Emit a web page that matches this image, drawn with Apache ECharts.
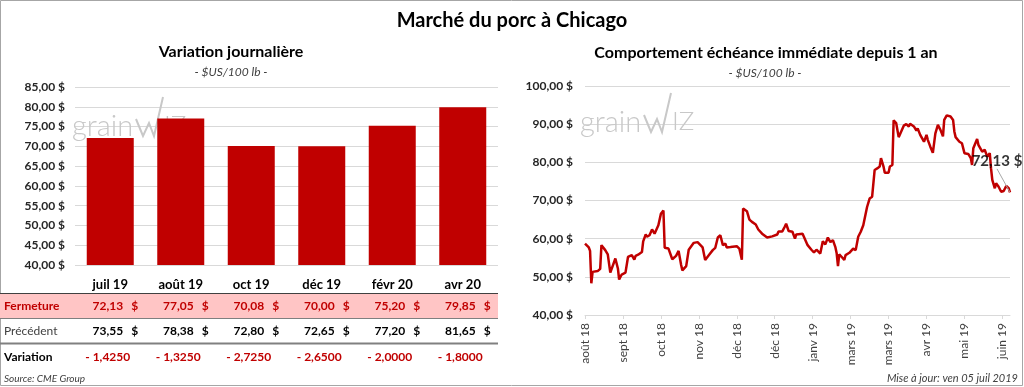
<!DOCTYPE html>
<html><head><meta charset="utf-8">
<script src="https://cdn.jsdelivr.net/npm/echarts@6/dist/echarts.min.js"></script>
<style>html,body{margin:0;padding:0;background:#fff}#c{width:1024px;height:387px}</style>
</head><body><div id="c"></div>
<script>
// ---- Left panel data (daily variation) ----
const categories = ['juil 19', 'août 19', 'oct 19', 'déc 19', 'févr 20', 'avr 20'];
const closeValues = [72.13, 77.05, 70.08, 70.00, 75.20, 79.85];
const prevValues = [73.55, 78.38, 72.80, 72.65, 77.20, 81.65];
const variations = [-1.4250, -1.3250, -2.7250, -2.6500, -2.0000, -1.8000];
const leftYTicks = [40, 85, 5];

// ---- Right panel data (front month, 1 year) ----
// days since 3 Aug 2018
const days = [0,3,4,5,6,10,12,13,16,18,20,24,26,27,29,32,34,37,39,40,42,45,46,48,49,51,53,55,58,60,62,63,66,69,72,74,76,77,80,82,86,89,93,95,98,101,103,105,107,109,111,112,115,116,120,122,124,125,128,130,132,135,137,140,144,148,152,153,156,158,159,161,164,166,167,172,174,176,179,181,183,186,188,190,192,194,196,198,199,200,201,203,205,206,209,212,214,216,218,220,221,223,225,227,229,231,233,234,236,237,240,241,243,244,246,248,250,252,254,256,257,260,262,263,265,268,270,271,273,275,277,279,281,283,284,286,289,291,292,293,296,298,300,303,305,306,307,310,311,312,314,316,318,320,321,322,324,325,327,329,331,333,335,336];
const prices = [58.7,57.7,56.8,48.3,51.3,51.5,52.1,58.3,57.0,55.9,51.1,54.8,52.2,49.3,50.6,51.1,55.2,55.7,54.5,55.5,55.8,56.5,59.3,61.1,60.5,60.9,62.4,61.3,63.5,66.5,67.4,57.6,57.4,54.6,55.5,56.8,53.1,51.7,52.8,57.1,58.9,59.1,57.7,54.4,55.7,57.0,57.6,60.3,60.9,58.3,58.7,57.7,57.8,57.6,58.0,57.4,54.5,67.9,67.2,65.0,64.4,63.7,62.4,61.3,60.3,60.6,61.1,61.9,61.9,63.2,63.9,62.0,61.8,60.0,61.1,61.3,59.8,58.3,57.1,56.4,57.1,56.1,59.3,58.5,60.3,59.1,59.6,57.7,56.1,52.8,55.9,55.2,54.4,55.7,56.3,57.4,57.0,60.5,61.8,63.5,64.0,68.3,70.5,71.0,78.0,78.4,78.9,81.1,78.9,77.3,77.3,78.9,79.3,91.0,90.3,86.6,88.1,89.6,90.0,89.4,90.1,89.4,88.3,88.9,87.2,85.4,87.2,85.9,84.1,82.5,87.6,89.8,88.5,86.8,91.1,92.3,92.0,91.1,88.1,86.6,85.4,85.0,82.4,82.2,81.1,79.3,83.7,86.1,84.6,85.0,82.8,83.3,81.5,82.4,78.4,75.4,73.2,74.5,73.6,72.3,72.5,73.8,73.2,72.13];
const xTickDays = [0,30,60,90,120,150,180,210,240,270,300,330];
const rightYTicks = [40, 100, 10];
const monthNames = ['janv','févr','mars','avr','mai','juin','juil','août','sept','oct','nov','déc'];

const FONT = 'Lato, "Open Sans", sans-serif';
const RED = '#c00000';
const baseDate = Date.UTC(2018, 7, 3);
function fmt2(v){ return v.toFixed(2).replace('.', ','); }
function fmtVar(v){ return (v < 0 ? '- ' : '') + Math.abs(v).toFixed(4).replace('.', ','); }
function dayLabel(v){ const d = new Date(baseDate + v * 86400000); return monthNames[d.getUTCMonth()] + ' ' + String(d.getUTCFullYear()).slice(2); }

const lineData = days.map((d, i) => [d, prices[i]]);
const lastPoint = lineData[lineData.length - 1];

const chart = echarts.init(document.getElementById('c'), null, {renderer: 'canvas'});
const option = {
  animation: false,
  textStyle: {fontFamily: FONT},
  grid: [
    {left: 75, right: 526, top: 87, bottom: 122},
    {left: 585, right: 14, top: 86, bottom: 72}
  ],
  xAxis: [
    {type: 'category', gridIndex: 0, data: categories,
     axisLine: {show: false}, axisTick: {show: false},
     axisLabel: {margin: 13, fontWeight: 'bold', fontSize: 13, color: '#000', fontFamily: FONT}},
    {type: 'value', gridIndex: 1, min: 0, max: days[days.length - 1], interval: 30,
     axisLine: {show: true, lineStyle: {color: '#d9d9d9'}},
     axisTick: {show: true, length: 4, lineStyle: {color: '#d9d9d9'}, customValues: xTickDays},
     axisLabel: {rotate: 90, customValues: xTickDays, formatter: dayLabel, fontSize: 12, color: '#404040', margin: 8, fontFamily: FONT},
     splitLine: {show: false}}
  ],
  yAxis: [
    {type: 'value', gridIndex: 0, min: leftYTicks[0], max: leftYTicks[1], interval: leftYTicks[2],
     axisLine: {show: false}, axisTick: {show: false},
     axisLabel: {formatter: v => fmt2(v) + ' $', fontWeight: 'bold', fontSize: 12, color: '#262626', margin: 10, fontFamily: FONT},
     splitLine: {lineStyle: {color: '#d9d9d9'}}},
    {type: 'value', gridIndex: 1, min: rightYTicks[0], max: rightYTicks[1], interval: rightYTicks[2],
     axisLine: {show: false}, axisTick: {show: false},
     axisLabel: {formatter: v => fmt2(v) + ' $', fontWeight: 'bold', fontSize: 12, color: '#262626', margin: 12, fontFamily: FONT},
     splitLine: {lineStyle: {color: '#d9d9d9'}}}
  ],
  series: [
    {type: 'bar', xAxisIndex: 0, yAxisIndex: 0, data: closeValues, barWidth: 47, itemStyle: {color: RED}, z: 3},
    {type: 'line', xAxisIndex: 1, yAxisIndex: 1, data: lineData, showSymbol: false, symbol: 'none',
     lineStyle: {color: RED, width: 2.5}, z: 3},
    {type: 'scatter', xAxisIndex: 1, yAxisIndex: 1, data: [lastPoint], symbolSize: 1,
     itemStyle: {color: 'rgba(0,0,0,0)'}, z: 4,
     label: {show: true, position: 'top', formatter: p => fmt2(p.value[1]) + ' $', fontWeight: 'bold', fontSize: 15, color: '#000', fontFamily: FONT},
     labelLayout: {dx: -13, dy: -18},
     labelLine: {show: true, lineStyle: {color: '#a6a6a6', width: 1}}}
  ]
};
chart.setOption(option);

function wm(x0, y0){
  // "grainWiz" watermark, x0/y0 = left / text bottom
  const c = '#c8c8c8';
  return [
    {type: 'text', z: 1, style: {x: x0, y: y0, text: 'grain', fill: c, font: '300 29px ' + FONT, verticalAlign: 'bottom'}},
    {type: 'polyline', z: 1, shape: {points: [[x0+64, y0-22], [x0+71, y0-5], [x0+77, y0-18], [x0+82, y0-5], [x0+91, y0-44]]}, style: {stroke: c, lineWidth: 2, fill: 'none'}},
    {type: 'text', z: 1, style: {x: x0+92, y: y0-2, text: 'IZ', fill: c, font: '300 26px ' + FONT, verticalAlign: 'bottom'}}
  ];
}

const g = [];
g.push({type: 'rect', shape: {x: 0.5, y: 0.5, width: 1022, height: 385}, style: {fill: 'none', stroke: '#a6a6a6', lineWidth: 1}});
g.push({type: 'text', style: {x: 512, y: 21, text: 'Marché du porc à Chicago', font: 'bold 20px ' + FONT, fill: '#000', align: 'center', verticalAlign: 'middle'}});
g.push({type: 'text', style: {x: 231, y: 52, text: 'Variation journalière', font: 'bold 16px ' + FONT, fill: '#000', align: 'center', verticalAlign: 'middle'}});
g.push({type: 'text', style: {x: 231, y: 72, text: '- $US/100 lb -', font: 'italic 12px ' + FONT, fill: '#404040', align: 'center', verticalAlign: 'middle'}});
g.push({type: 'text', style: {x: 766, y: 53, text: 'Comportement échéance immédiate depuis 1 an', font: 'bold 16px ' + FONT, fill: '#000', align: 'center', verticalAlign: 'middle'}});
g.push({type: 'text', style: {x: 765, y: 73, text: '- $US/100 lb -', font: 'italic 12px ' + FONT, fill: '#404040', align: 'center', verticalAlign: 'middle'}});
wm(72, 141).forEach(e => g.push(e));
wm(580, 137).forEach(e => g.push(e));

// table
g.push({type: 'rect', shape: {x: 0, y: 294, width: 498, height: 24}, style: {fill: '#ffc5c5'}});
g.push({type: 'line', shape: {x1: 0, y1: 293.5, x2: 498, y2: 293.5}, style: {stroke: '#404040', lineWidth: 1}});
g.push({type: 'line', shape: {x1: 0, y1: 318.5, x2: 498, y2: 318.5}, style: {stroke: '#7f7f7f', lineWidth: 1}});
g.push({type: 'line', shape: {x1: 0, y1: 343.5, x2: 498, y2: 343.5}, style: {stroke: '#808080', lineWidth: 2}});
g.push({type: 'text', style: {x: 4, y: 306, text: 'Fermeture', font: 'bold 12px ' + FONT, fill: RED, verticalAlign: 'middle'}});
g.push({type: 'text', style: {x: 4, y: 331.5, text: 'Précédent', font: '12px ' + FONT, fill: '#404040', verticalAlign: 'middle'}});
g.push({type: 'text', style: {x: 4, y: 357.5, text: 'Variation', font: 'bold 12px ' + FONT, fill: '#000', verticalAlign: 'middle'}});
categories.forEach((cat, i) => {
  const cx = chart.convertToPixel({xAxisIndex: 0}, cat);
  g.push({type: 'text', style: {x: cx + 13, y: 306, text: fmt2(closeValues[i]), font: 'bold 12px ' + FONT, fill: RED, align: 'right', verticalAlign: 'middle'}});
  g.push({type: 'text', style: {x: cx + 28, y: 306, text: '$', font: 'bold 12px ' + FONT, fill: RED, align: 'right', verticalAlign: 'middle'}});
  g.push({type: 'text', style: {x: cx + 13, y: 331.5, text: fmt2(prevValues[i]), font: 'bold 12px ' + FONT, fill: '#000', align: 'right', verticalAlign: 'middle'}});
  g.push({type: 'text', style: {x: cx + 28, y: 331.5, text: '$', font: 'bold 12px ' + FONT, fill: '#000', align: 'right', verticalAlign: 'middle'}});
  g.push({type: 'text', style: {x: cx + 20, y: 357.5, text: fmtVar(variations[i]), font: 'bold 12px ' + FONT, fill: RED, align: 'right', verticalAlign: 'middle'}});
});
g.push({type: 'text', style: {x: 4, y: 379, text: 'Source: CME Group', font: 'italic 10px ' + FONT, fill: '#404040', verticalAlign: 'middle'}});
g.push({type: 'text', style: {x: 1018, y: 378, text: 'Mise à jour: ven 05 juil 2019', font: 'italic 11px ' + FONT, fill: '#404040', align: 'right', verticalAlign: 'middle'}});

chart.setOption({graphic: {elements: g}});
</script>
</body></html>
